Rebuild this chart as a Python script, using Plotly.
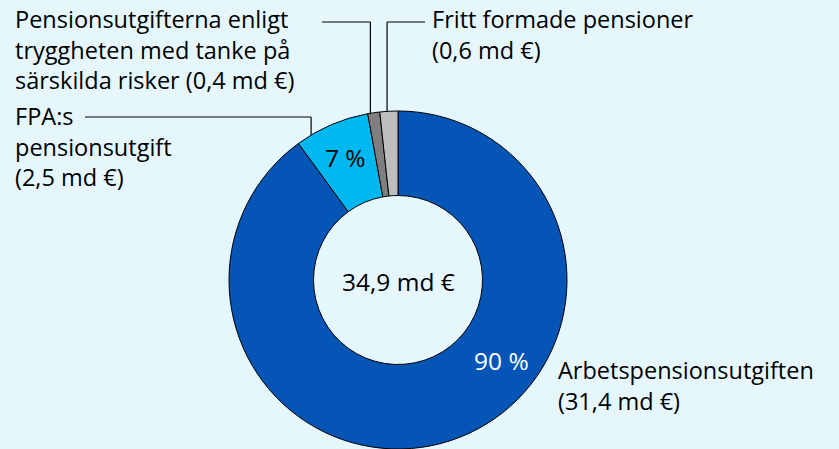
import math
import plotly.graph_objects as go

# ---- data ----
labels = [
    "Arbetspensionsutgiften",
    "FPA:s pensionsutgift",
    "Pensionsutgifterna enligt tryggheten med tanke på särskilda risker",
    "Fritt formade pensioner",
]
values = [31.4, 2.5, 0.4, 0.6]
colors = ["#0455B5", "#00B8F0", "#7F7F7F", "#BDBDBD"]
label_lines = [
    ["Arbetspensionsutgiften", "(31,4 md €)"],
    ["FPA:s", "pensionsutgift", "(2,5 md €)"],
    ["Pensionsutgifterna enligt", "tryggheten med tanke på", "särskilda risker (0,4 md €)"],
    ["Fritt formade pensioner", "(0,6 md €)"],
]

W, H = 839, 449
BG = "#E6F6FD"
FONT = "Open Sans"
FS = 23.5
FS_NUM = 24.5

# donut geometry (pixels)
CX, CY, R = 398, 280, 169
HOLE = 0.50


def X(px):
    return px / W


def Y(py):
    return 1 - py / H


total = sum(values)

fig = go.Figure()
fig.add_trace(go.Pie(
    labels=labels,
    values=values,
    sort=False,
    direction="clockwise",
    rotation=0,
    hole=HOLE,
    marker=dict(colors=colors, line=dict(color="#000000", width=1)),
    textinfo="none",
    hoverinfo="label+value+percent",
    showlegend=False,
    domain=dict(x=[X(CX - R), X(CX + R)], y=[0, (2 * R) / H]),
))

# slice angles (degrees, clockwise from 12 o'clock)
starts = []
acc = 0.0
for v in values:
    starts.append(acc / total * 360)
    acc += v
spans = [v / total * 360 for v in values]


def polar(angle_deg, r):
    a = math.radians(angle_deg)
    return CX + r * math.sin(a), CY - r * math.cos(a)


annotations = []
shapes = []


def add_text(px, py, text, color="#000000", xanchor="left", size=FS):
    annotations.append(dict(
        x=X(px), y=Y(py), xref="paper", yref="paper", text=text,
        showarrow=False, xanchor=xanchor, yanchor="middle", align="left",
        font=dict(family=FONT, size=size, color=color),
    ))


def add_line(x0, y0, x1, y1):
    shapes.append(dict(type="line", xref="paper", yref="paper",
                       x0=X(x0), y0=Y(y0), x1=X(x1), y1=Y(y1),
                       line=dict(color="#000000", width=1.2)))


# percentage labels
pcts = [f"{round(v / total * 100)} %" for v in values]
mid_r = R * (1 + HOLE) / 2
px, py = polar(128, mid_r + 4)
add_text(px, py, pcts[0], color="#FFFFFF", xanchor="center", size=FS_NUM)
px, py = polar(starts[1] + spans[1] * 0.5, mid_r + 6)
add_text(px, py, pcts[1], color="#000000", xanchor="center", size=FS_NUM)

# centre total
add_text(CX, CY + 1, f"{total:.1f}".replace(".", ",") + " md €", xanchor="center", size=FS_NUM)

# category labels (multi-line)
add_text(556, 385, "<br>".join(label_lines[0]))
add_text(13, 147, "<br>".join(label_lines[1]))
add_text(13, 49, "<br>".join(label_lines[2]))
add_text(430, 35, "<br>".join(label_lines[3]))

# leader lines
HY = 22
a = starts[2] + spans[2] * 0.22
lx, ly = polar(a, R)
add_line(322, HY, lx, HY)
add_line(lx, HY, lx, ly)

a = starts[3] + spans[3] * 0.4
lx, ly = polar(a, R)
add_line(lx, HY, 425, HY)
add_line(lx, HY, lx, ly)

a = starts[1] + spans[1] * 0.2
lx, ly = polar(a, R)
add_line(85, 117, lx, 117)
add_line(lx, 117, lx, ly)

fig.update_layout(
    width=W, height=H,
    margin=dict(l=0, r=0, t=0, b=0),
    paper_bgcolor=BG, plot_bgcolor=BG,
    annotations=annotations, shapes=shapes,
    font=dict(family=FONT, size=FS, color="#000000"),
)

fig.write_html(
    "out.html",
    config={"displayModeBar": False},
    post_script="document.body.style.margin='0';document.body.style.padding='0';"
                "document.body.style.overflow='hidden';",
)
